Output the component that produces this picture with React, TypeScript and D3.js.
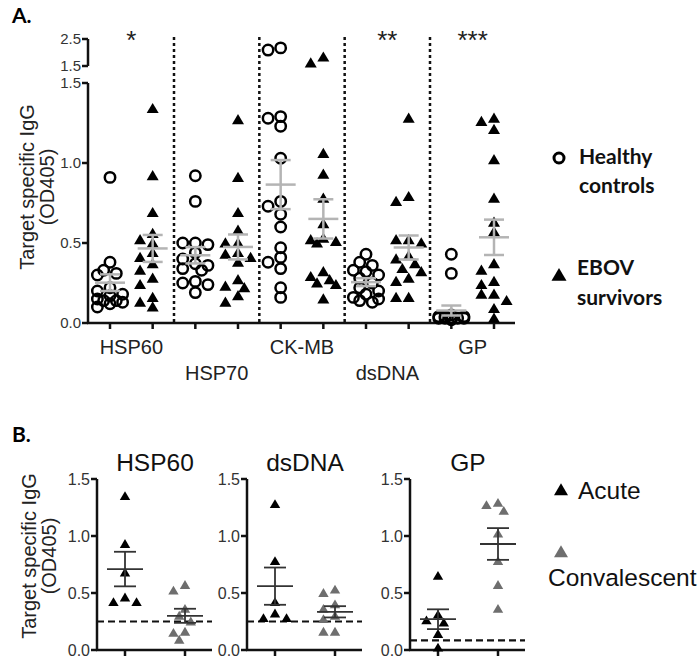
import React from "react";
import * as d3 from "d3";

// panel A
const categoriesA = ["HSP60", "HSP70", "CK-MB", "dsDNA", "GP"];
const starsA = ["*", "", "", "**", "***"];
const healthyA = [
  [0.91, 0.38, 0.33, 0.31, 0.3, 0.22, 0.2, 0.18, 0.17, 0.15, 0.14, 0.14, 0.12, 0.1, 0.13],
  [0.92, 0.76, 0.5, 0.49, 0.5, 0.44, 0.4, 0.37, 0.36, 0.34, 0.33, 0.26, 0.25, 0.24, 0.19],
  [2.09, 2.17, 1.28, 1.23, 1.29, 1.03, 0.76, 0.73, 0.68, 0.6, 0.47, 0.41, 0.38, 0.34, 0.22, 0.16],
  [0.43, 0.38, 0.36, 0.33, 0.32, 0.3, 0.28, 0.25, 0.22, 0.2, 0.18, 0.16, 0.15, 0.14, 0.13],
  [0.43, 0.31, 0.05, 0.04, 0.04, 0.03, 0.03, 0.03, 0.03, 0.03, 0.03, 0.02, 0.03, 0.03, 0.04],
];
const survivorsA = [
  [1.34, 0.92, 0.69, 0.56, 0.52, 0.5, 0.44, 0.41, 0.37, 0.33, 0.28, 0.24, 0.16, 0.13, 0.1],
  [1.27, 0.91, 0.69, 0.58, 0.5, 0.5, 0.44, 0.43, 0.41, 0.38, 0.27, 0.23, 0.22, 0.17, 0.13],
  [1.83, 1.61, 1.06, 0.93, 0.78, 0.62, 0.53, 0.51, 0.5, 0.52, 0.32, 0.29, 0.27, 0.25, 0.24, 0.15],
  [1.28, 0.79, 0.76, 0.52, 0.52, 0.5, 0.42, 0.4, 0.37, 0.34, 0.32, 0.28, 0.26, 0.16, 0.16],
  [1.28, 1.26, 1.21, 1.02, 0.78, 0.63, 0.57, 0.37, 0.33, 0.26, 0.24, 0.18, 0.18, 0.14, 0.09, 0.03],
];
const lowerTicksA = [0, 0.5, 1.0, 1.5];
const upperTicksA = [1.5, 2.5];

// panel B
const categoriesB = ["HSP60", "dsDNA", "GP"];
const acuteB = [
  [1.35, 0.93, 0.68, 0.46, 0.42, 0.42],
  [1.28, 0.78, 0.42, 0.32, 0.28, 0.28],
  [0.65, 0.31, 0.26, 0.24, 0.14, 0.02],
];
const convB = [
  [0.57, 0.52, 0.36, 0.3, 0.25, 0.16, 0.15, 0.09],
  [0.53, 0.5, 0.4, 0.36, 0.3, 0.27, 0.16, 0.16],
  [1.29, 1.27, 1.22, 1.02, 0.78, 0.57, 0.36],
];
const cutoffB = [0.25, 0.25, 0.085];
const ticksB = [0, 0.5, 1.0, 1.5];

const FONT = "'Liberation Sans', Arial, sans-serif";
const BOLD = "Lato, 'Open Sans', sans-serif";

// tight beeswarm, overlap allowed like the prism scatter
function swarm(values: number[], y: (v: number) => number, r: number) {
  const order = values.map((v, i) => i).sort((a, b) => values[b] - values[a]);
  const placed: { x: number; y: number }[] = [];
  const out: number[] = new Array(values.length).fill(0);
  const s = r * 1.05;
  const cands = [0, -s, s, -2 * s, 2 * s];
  order.forEach((i) => {
    const py = y(values[i]);
    let best = 0;
    let bestD = -1;
    for (const c of cands) {
      const d = placed.length ? d3.min(placed, (p) => Math.hypot(p.x - c, p.y - py)) as number : Infinity;
      if (d >= r * 1.5) {
        best = c;
        bestD = Infinity;
        break;
      }
      if (d > bestD) {
        bestD = d;
        best = c;
      }
    }
    out[i] = best;
    placed.push({ x: best, y: py });
  });
  return out;
}

const tri = (cx: number, cy: number, s: number) =>
  `M${cx},${cy - s * 0.95} L${cx + s},${cy + s * 0.75} L${cx - s},${cy + s * 0.75} Z`;

function sem(v: number[]) {
  return (d3.deviation(v) ?? 0) / Math.sqrt(v.length);
}

const PanelA = () => {
  const axisX = 88;
  const lower = d3.scaleLinear().domain([0, 1.5]).range([323, 83]);
  const upper = d3.scaleLinear().domain([1.5, 2.5]).range([66, 39]);
  const yA = (v: number) => (v <= 1.5 ? lower(v) : upper(v));
  const cols = categoriesA.flatMap((c) => [c + "-h", c + "-s"]);
  const x = d3.scalePoint<string>().domain(cols).range([110, 494]);
  const gray = "#b4b4b4";

  const meanBar = (vals: number[], cx: number, key: string) => {
    const m = d3.mean(vals) as number;
    const e = sem(vals);
    return (
      <g key={key} stroke={gray} strokeWidth={2.5}>
        <line x1={cx} x2={cx} y1={yA(m + e)} y2={yA(m - e)} />
        <line x1={cx - 15} x2={cx + 15} y1={yA(m)} y2={yA(m)} />
        <line x1={cx - 10} x2={cx + 10} y1={yA(m + e)} y2={yA(m + e)} />
        <line x1={cx - 10} x2={cx + 10} y1={yA(m - e)} y2={yA(m - e)} />
      </g>
    );
  };

  return (
    <g>
      <text x={12} y={23} fontFamily={BOLD} fontWeight="bold" fontSize={21}>A.</text>
      {/* y label */}
      <g transform="translate(28,187) rotate(-90)" fontFamily={FONT} fontSize={20} textAnchor="middle" fill="#222">
        <text y={6}>Target specific IgG</text>
        <text y={26}>(OD405)</text>
      </g>
      {/* axes */}
      <g stroke="#111" strokeWidth={2.5}>
        <line x1={axisX} x2={axisX} y1={upper(2.5)} y2={upper(1.5)} />
        <line x1={axisX} x2={axisX} y1={lower(1.5)} y2={lower(0)} />
        <line x1={axisX - 1} x2={515} y1={lower(0)} y2={lower(0)} />
        {upperTicksA.map((t) => (
          <line key={"u" + t} x1={axisX - 6} x2={axisX} y1={upper(t)} y2={upper(t)} />
        ))}
        {lowerTicksA.map((t) => (
          <line key={"l" + t} x1={axisX - 6} x2={axisX} y1={lower(t)} y2={lower(t)} />
        ))}
        {cols.map((c) => (
          <line key={c} x1={x(c)} x2={x(c)} y1={lower(0)} y2={lower(0) + 6} />
        ))}
      </g>
      <g fontFamily={FONT} fontSize={15} fill="#333" textAnchor="end">
        {upperTicksA.map((t) => (
          <text key={"u" + t} x={axisX - 7} y={upper(t) + 5}>{t.toFixed(1)}</text>
        ))}
        {lowerTicksA.map((t) => (
          <text key={"l" + t} x={axisX - 7} y={lower(t) + 5}>{t.toFixed(1)}</text>
        ))}
      </g>
      {/* dividers */}
      {categoriesA.slice(1).map((c, i) => {
        const xd = ((x(categoriesA[i] + "-s") as number) + (x(c + "-h") as number)) / 2;
        return (
          <line key={c} x1={xd} x2={xd} y1={37} y2={lower(0)} stroke="#111" strokeWidth={2.5} strokeDasharray="3,3" />
        );
      })}
      {/* labels and stars */}
      {categoriesA.map((c, i) => {
        const cx = ((x(c + "-h") as number) + (x(c + "-s") as number)) / 2;
        return (
          <g key={c} fontFamily={FONT} textAnchor="middle" fill="#222">
            <text x={cx} y={354} dy={i % 2 === 0 ? 0 : 26} fontSize={20}>{c}</text>
            {starsA[i] && (
              <text x={cx} y={49} fontSize={26}>{starsA[i]}</text>
            )}
          </g>
        );
      })}
      {/* points */}
      {categoriesA.map((c, i) => {
        const hx = x(c + "-h") as number;
        const sx = x(c + "-s") as number;
        const ho = swarm(healthyA[i], yA, 6);
        const so = swarm(survivorsA[i], yA, 6);
        return (
          <g key={c}>
            {healthyA[i].map((v, j) => (
              <circle key={j} cx={hx + ho[j]} cy={yA(v)} r={5.2} fill="none" stroke="#000" strokeWidth={2.5} />
            ))}
            {survivorsA[i].map((v, j) => (
              <path key={j} d={tri(sx + so[j], yA(v), 6)} fill="#000" />
            ))}
            {meanBar(healthyA[i], hx, "mh")}
            {meanBar(survivorsA[i], sx, "ms")}
          </g>
        );
      })}
      {/* legend */}
      <circle cx={559} cy={158} r={5} fill="none" stroke="#000" strokeWidth={3} />
      <g fontFamily={BOLD} fontWeight="bold" fontSize={21} fill="#111">
        <text x={579} y={164}>Healthy</text>
        <text x={579} y={193}>controls</text>
        <text x={577} y={275}>EBOV</text>
        <text x={577} y={305}>survivors</text>
      </g>
      <path d={tri(559, 275, 7.5)} fill="#000" />
    </g>
  );
};

const PanelB = () => {
  const y = d3.scaleLinear().domain([0, 1.5]).range([650, 479]);
  const x0s = [97, 247, 410];
  const black = "#000";
  const grayT = "#6e6e6e";
  return (
    <g>
      <text x={12} y={442} fontFamily={BOLD} fontWeight="bold" fontSize={21}>B.</text>
      <g transform="translate(30,556) rotate(-90)" fontFamily={FONT} fontSize={20} textAnchor="middle" fill="#222">
        <text y={6}>Target specific IgG</text>
        <text y={26}>(OD405)</text>
      </g>
      {categoriesB.map((c, i) => {
        const x0 = x0s[i];
        const x = d3.scalePoint<string>().domain(["Acute", "Convalescent"]).range([x0 + 28, x0 + 88]);
        const ax = x("Acute") as number;
        const cx = x("Convalescent") as number;
        const ao = swarm(acuteB[i], y, 5.5);
        const co = swarm(convB[i], y, 5.5);
        const bar = (vals: number[], px: number) => {
          const m = d3.mean(vals) as number;
          const e = sem(vals);
          return (
            <g stroke="#333" strokeWidth={1.8}>
              <line x1={px} x2={px} y1={y(m + e)} y2={y(m - e)} />
              <line x1={px - 18} x2={px + 18} y1={y(m)} y2={y(m)} />
              <line x1={px - 11} x2={px + 11} y1={y(m + e)} y2={y(m + e)} />
              <line x1={px - 11} x2={px + 11} y1={y(m - e)} y2={y(m - e)} />
            </g>
          );
        };
        return (
          <g key={c}>
            <text x={x0 + 58} y={471} fontFamily={FONT} fontSize={24.5} textAnchor="middle" fill="#111">{c}</text>
            <g stroke="#111" strokeWidth={2.5}>
              <line x1={x0} x2={x0} y1={y(1.5)} y2={y(0)} />
              <line x1={x0 - 1} x2={x0 + 115} y1={y(0)} y2={y(0)} />
              {ticksB.map((t) => (
                <line key={t} x1={x0 - 6} x2={x0} y1={y(t)} y2={y(t)} />
              ))}
              {[ax, cx].map((p) => (
                <line key={p} x1={p} x2={p} y1={y(0)} y2={y(0) + 6} />
              ))}
            </g>
            <g fontFamily={FONT} fontSize={16} fill="#333" textAnchor="end">
              {ticksB.map((t) => (
                <text key={t} x={x0 - 7} y={y(t) + 6}>{t.toFixed(1)}</text>
              ))}
            </g>
            <line x1={x0} x2={x0 + 115} y1={y(cutoffB[i])} y2={y(cutoffB[i])} stroke="#111" strokeWidth={2.2} strokeDasharray="7,4" />
            {acuteB[i].map((v, j) => (
              <path key={"a" + j} d={tri(ax + ao[j], y(v), 5.2)} fill={black} />
            ))}
            {convB[i].map((v, j) => (
              <path key={"c" + j} d={tri(cx + co[j], y(v), 5.2)} fill={grayT} />
            ))}
            {bar(acuteB[i], ax)}
            {bar(convB[i], cx)}
          </g>
        );
      })}
      <path d={tri(561, 490, 7)} fill={black} />
      <text x={578} y={499} fontFamily={FONT} fontSize={24.5} fill="#111">Acute</text>
      <path d={tri(561, 552, 7)} fill={grayT} />
      <text x={548} y={586} fontFamily={FONT} fontSize={24.5} fill="#111">Convalescent</text>
    </g>
  );
};

export default function App() {
  return (
    <svg width={700} height={663} style={{ position: "absolute", left: 0, top: 0, background: "#fff" }}>
      <rect width={700} height={663} fill="#fff" />
      <PanelA />
      <PanelB />
    </svg>
  );
}
